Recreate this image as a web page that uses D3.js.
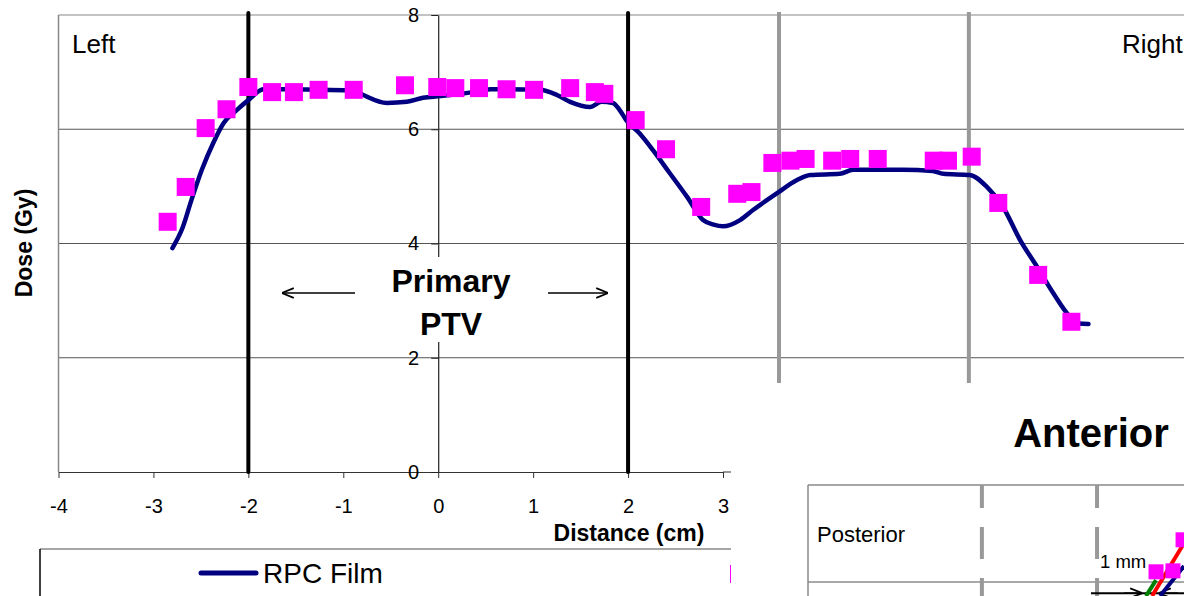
<!DOCTYPE html>
<html>
<head>
<meta charset="utf-8">
<script src="https://cdn.jsdelivr.net/npm/d3@7"></script>
<style>
  body { margin: 0; background: #fff; }
  svg { display: block; font-family: "Liberation Sans", Arial, sans-serif; }
</style>
</head>
<body>
<div id="chart"></div>
<script>
// film profile (navy line)
const filmX = [-2.80, -2.69, -2.60, -2.49, -2.37, -2.26, -2.12, -2.00, -1.84, -1.63, -1.26, -0.89, -0.79, -0.54, -0.33, -0.16,
  0.02, 0.37, 0.55, 1.07, 1.25, 1.39, 1.60, 1.72, 1.84, 1.91, 1.98, 2.12, 2.26, 2.44, 2.62, 2.79, 2.90, 3.00, 3.18, 3.32,
  3.57, 3.78, 3.92, 4.23, 4.37, 4.89, 5.21, 5.32, 5.60, 5.78, 5.95, 6.13, 6.31, 6.48, 6.66, 6.75, 6.85];
const filmY = [3.92, 4.29, 4.76, 5.29, 5.76, 6.11, 6.34, 6.51, 6.70, 6.70, 6.69, 6.68, 6.60, 6.46, 6.48, 6.55,
  6.58, 6.65, 6.70, 6.69, 6.60, 6.48, 6.39, 6.48, 6.46, 6.34, 6.16, 5.93, 5.64, 5.23, 4.82, 4.41, 4.33, 4.30, 4.41, 4.59,
  4.88, 5.11, 5.20, 5.22, 5.29, 5.29, 5.27, 5.22, 5.20, 4.99, 4.64, 4.06, 3.59, 3.13, 2.71, 2.60, 2.59];

// point doses (magenta squares)
const pointX = [-2.85, -2.66, -2.45, -2.23, -2.00, -1.75, -1.52, -1.26, -0.89, -0.35, -0.01, 0.18, 0.43, 0.72, 1.01, 1.39,
  1.65, 1.75, 2.08, 2.40, 2.77, 3.15, 3.30, 3.52, 3.71, 3.87, 4.15, 4.34, 4.63, 5.22, 5.37, 5.62, 5.90, 6.32, 6.67];
const pointY = [4.38, 4.99, 6.02, 6.35, 6.74, 6.65, 6.65, 6.69, 6.69, 6.77, 6.74, 6.72, 6.72, 6.70, 6.69, 6.72,
  6.65, 6.62, 6.16, 5.65, 4.64, 4.87, 4.90, 5.41, 5.45, 5.48, 5.45, 5.48, 5.48, 5.45, 5.45, 5.52, 4.71, 3.45, 2.63];

// PTV borders
const primaryEdges = [-2, 2];
const secondaryEdges = [3.59, 5.59];

const xTicks = [-4, -3, -2, -1, 0, 1, 2, 3];
const yTicks = [0, 2, 4, 6, 8];

// inset chart (mostly hidden)
const insetEdges = [-0.76, -0.27];
const insetGrid = [6];
const insetPtsX = [-0.019, 0.053, 0.096];
const insetPtsY = [6.21, 6.23, 6.87];
const insetLines = [
  { color: "#008000", x: [-0.062, -0.019], y: [5.71, 6.04] },
  { color: "#ff0000", x: [-0.036, 0.10], y: [5.71, 6.80] },
  { color: "#000080", x: [-0.002, 0.10], y: [5.71, 6.33] }
];

const width = 1184, height = 596;

const svg = d3.select("#chart").append("svg")
  .attr("width", width)
  .attr("height", height);

const x = d3.scaleLinear().domain([-4, 3]).range([58.5, 723]);
const y = d3.scaleLinear().domain([0, 8]).range([472, 15]);

// gridlines
svg.append("g")
  .selectAll("line")
  .data(yTicks.filter(d => d > 0))
  .join("line")
    .attr("x1", x(-4)).attr("x2", width)
    .attr("y1", d => y(d)).attr("y2", d => y(d))
    .attr("stroke", d => d === 8 ? "#888" : "#555")
    .attr("stroke-width", 1.2);

// left border
svg.append("line")
  .attr("x1", x(-4)).attr("x2", x(-4))
  .attr("y1", y(8)).attr("y2", y(0))
  .attr("stroke", "#888").attr("stroke-width", 1.5);

// x axis (runs on under the inset)
svg.append("line")
  .attr("x1", x(3)).attr("x2", width).attr("y1", y(0)).attr("y2", y(0))
  .attr("stroke", "#333").attr("stroke-width", 1.2);

svg.append("g")
  .attr("transform", `translate(0,${y(0)})`)
  .call(d3.axisBottom(x).tickValues(xTicks).tickSize(6).tickSizeOuter(0).tickPadding(21)
    .tickFormat(d => d < 0 ? "-" + Math.abs(d) : d))
  .call(g => g.select(".domain").attr("stroke", "#333").attr("stroke-width", 1.2))
  .call(g => g.selectAll(".tick line").attr("stroke", "#333"))
  .call(g => g.selectAll("text").style("font-size", "20px").attr("fill", "#000")
    .style("font-family", "'Liberation Sans', Arial, sans-serif"));

// y axis at x = 0
svg.append("g")
  .attr("transform", `translate(${x(0)},0)`)
  .call(d3.axisLeft(y).tickValues(yTicks).tickSize(7).tickSizeOuter(0).tickPadding(12))
  .call(g => g.select(".domain").attr("stroke", "#222").attr("stroke-width", 1.2))
  .call(g => g.selectAll(".tick line").attr("stroke", "#222"))
  .call(g => g.selectAll("text").style("font-size", "20px").attr("fill", "#000")
    .style("font-family", "'Liberation Sans', Arial, sans-serif"));

// Primary PTV label box
svg.append("rect")
  .attr("x", 380).attr("y", 257)
  .attr("width", 145).attr("height", 85)
  .attr("fill", "#fff");

svg.append("text")
  .attr("x", 451).attr("y", 292)
  .attr("text-anchor", "middle")
  .style("font-size", "32px").style("font-weight", "bold")
  .text("Primary");
svg.append("text")
  .attr("x", 451).attr("y", 335)
  .attr("text-anchor", "middle")
  .style("font-size", "32px").style("font-weight", "bold")
  .text("PTV");

// arrows
const defs = svg.append("defs");
defs.append("marker")
  .attr("id", "arrow")
  .attr("viewBox", "0 0 10 10")
  .attr("refX", 9).attr("refY", 5)
  .attr("markerWidth", 8).attr("markerHeight", 8)
  .attr("orient", "auto-start-reverse")
  .append("path")
    .attr("d", "M0,1 L10,5 L0,9")
    .attr("fill", "none").attr("stroke", "#000").attr("stroke-width", 1.5);

svg.append("line")
  .attr("x1", 355).attr("x2", 283).attr("y1", 293).attr("y2", 293)
  .attr("stroke", "#000").attr("stroke-width", 1.5)
  .attr("marker-end", "url(#arrow)");
svg.append("line")
  .attr("x1", 548).attr("x2", 607).attr("y1", 293).attr("y2", 293)
  .attr("stroke", "#000").attr("stroke-width", 1.5)
  .attr("marker-end", "url(#arrow)");

// PTV edge lines
svg.append("g")
  .selectAll("line")
  .data(secondaryEdges)
  .join("line")
    .attr("x1", d => x(d)).attr("x2", d => x(d))
    .attr("y1", 12).attr("y2", y(0))
    .attr("stroke", "#999").attr("stroke-width", 4);

svg.append("g")
  .selectAll("line")
  .data(primaryEdges)
  .join("line")
    .attr("x1", d => x(d)).attr("x2", d => x(d))
    .attr("y1", 13).attr("y2", y(0))
    .attr("stroke", "#000").attr("stroke-width", 4)
    .attr("stroke-linecap", "round");

// film line
const film = filmX.map((v, i) => [v, filmY[i]]);
svg.append("path")
  .datum(film)
  .attr("fill", "none")
  .attr("stroke", "#000080")
  .attr("stroke-width", 4.5)
  .attr("stroke-linecap", "round")
  .attr("stroke-linejoin", "round")
  .attr("d", d3.line().x(d => x(d[0])).y(d => y(d[1])).curve(d3.curveMonotoneX));

// point squares
const sq = 18;
svg.append("g")
  .selectAll("rect")
  .data(pointX.map((v, i) => [v, pointY[i]]))
  .join("rect")
    .attr("x", d => x(d[0]) - sq / 2)
    .attr("y", d => y(d[1]) - sq / 2)
    .attr("width", sq).attr("height", sq)
    .attr("fill", "#ff00ff");

// Left / Right labels
svg.append("text").attr("x", 72).attr("y", 53)
  .style("font-size", "26px").text("Left");
svg.append("text").attr("x", 1122).attr("y", 53)
  .style("font-size", "26px").text("Right");

// axis titles
svg.append("text")
  .attr("x", 629).attr("y", 541)
  .attr("text-anchor", "middle")
  .style("font-size", "23px").style("font-weight", "bold")
  .text("Distance (cm)");

svg.append("text")
  .attr("transform", `translate(32,243) rotate(-90)`)
  .attr("text-anchor", "middle")
  .style("font-size", "23px").style("font-weight", "bold")
  .text("Dose (Gy)");

// legend
svg.append("line")
  .attr("x1", 40).attr("x2", width).attr("y1", 549).attr("y2", 549)
  .attr("stroke", "#888").attr("stroke-width", 1.5);
svg.append("line")
  .attr("x1", 40).attr("x2", 40).attr("y1", 549).attr("y2", height)
  .attr("stroke", "#000").attr("stroke-width", 1.5);
svg.append("line")
  .attr("x1", 201).attr("x2", 256).attr("y1", 573).attr("y2", 573)
  .attr("stroke", "#000080").attr("stroke-width", 5).attr("stroke-linecap", "round");
svg.append("text")
  .attr("x", 263).attr("y", 583)
  .style("font-size", "28px").text("RPC Film");
svg.append("rect")
  .attr("x", 730).attr("y", 565).attr("width", 18).attr("height", 18)
  .attr("fill", "#ff00ff");

// ---- overlapping inset chart ----
svg.append("rect")
  .attr("x", 731).attr("y", 383)
  .attr("width", width - 731).attr("height", height - 383)
  .attr("fill", "#fff");

svg.append("text")
  .attr("x", 1091).attr("y", 447)
  .attr("text-anchor", "middle")
  .style("font-size", "40px").style("font-weight", "bold")
  .text("Anterior");

const ix = d3.scaleLinear().domain([-1.5, 0.1]).range([808, 1184]);
const iy = d3.scaleLinear().domain([0, 8]).range([873, 485]);

const inset = svg.append("g");

inset.selectAll("line.grid")
  .data(insetGrid)
  .join("line")
    .attr("class", "grid")
    .attr("x1", ix(-1.5)).attr("x2", width)
    .attr("y1", d => iy(d)).attr("y2", d => iy(d))
    .attr("stroke", "#555").attr("stroke-width", 1.2);

inset.append("line")
  .attr("x1", ix(-1.5)).attr("x2", width).attr("y1", iy(8)).attr("y2", iy(8))
  .attr("stroke", "#888").attr("stroke-width", 1.5);
inset.append("line")
  .attr("x1", ix(-1.5)).attr("x2", ix(-1.5)).attr("y1", iy(8)).attr("y2", height)
  .attr("stroke", "#888").attr("stroke-width", 1.5);

inset.selectAll("line.edge")
  .data(insetEdges)
  .join("line")
    .attr("class", "edge")
    .attr("x1", d => ix(d)).attr("x2", d => ix(d))
    .attr("y1", iy(8)).attr("y2", height)
    .attr("stroke", "#999").attr("stroke-width", 4)
    .attr("stroke-dasharray", "32 19")
    .attr("stroke-dashoffset", 9);

inset.append("text")
  .attr("x", 817).attr("y", 542)
  .style("font-size", "22px").text("Posterior");

inset.append("text")
  .attr("x", 1100).attr("y", 568)
  .style("font-size", "18.5px").text("1 mm");

// 1 mm measure line
inset.append("line")
  .attr("x1", 1091).attr("x2", width).attr("y1", iy(5.77)).attr("y2", iy(5.77))
  .attr("stroke", "#000").attr("stroke-width", 2);
inset.append("line")
  .attr("x1", 1124).attr("x2", 1141).attr("y1", iy(5.77)).attr("y2", iy(5.77))
  .attr("stroke", "#000").attr("stroke-width", 1.5).attr("marker-end", "url(#arrow)");
inset.append("line")
  .attr("x1", 1178).attr("x2", 1160).attr("y1", iy(5.77)).attr("y2", iy(5.77))
  .attr("stroke", "#000").attr("stroke-width", 1.5).attr("marker-end", "url(#arrow)");

inset.selectAll("path.prof")
  .data(insetLines)
  .join("path")
    .attr("class", "prof")
    .attr("fill", "none")
    .attr("stroke", d => d.color)
    .attr("stroke-width", 4)
    .attr("d", d => d3.line()(d.x.map((v, i) => [ix(v), iy(d.y[i])])));

inset.selectAll("rect.pt")
  .data(insetPtsX.map((v, i) => [v, insetPtsY[i]]))
  .join("rect")
    .attr("class", "pt")
    .attr("x", d => ix(d[0]) - 7.5)
    .attr("y", d => iy(d[1]) - 7.5)
    .attr("width", 15).attr("height", 15)
    .attr("fill", "#ff00ff");
</script>
</body>
</html>
